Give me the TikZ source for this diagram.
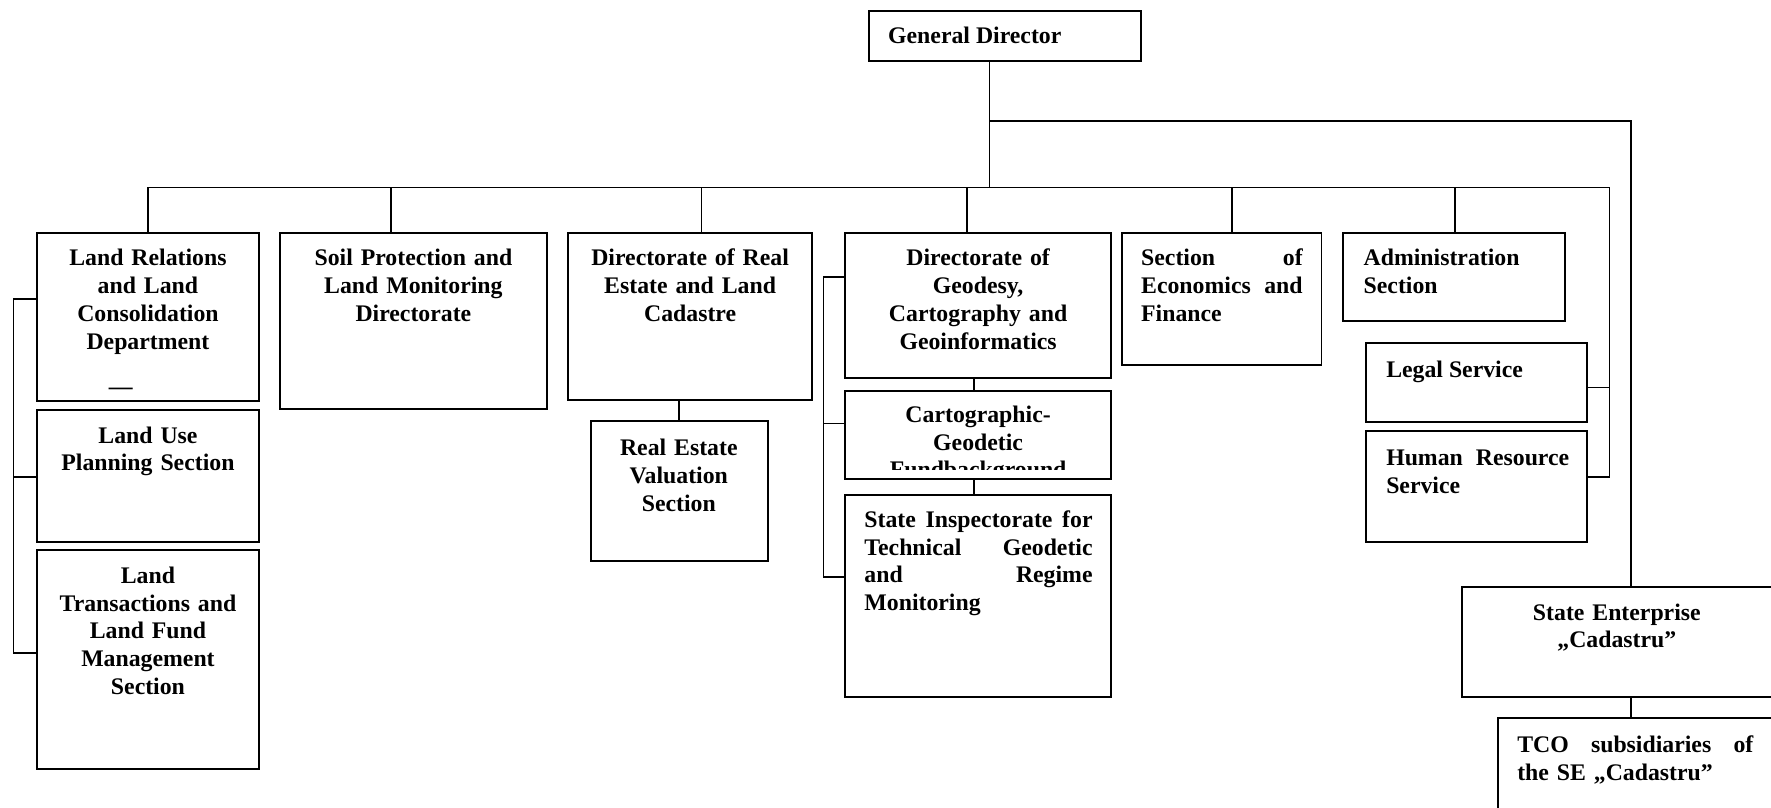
\documentclass[tikz,border=0pt]{standalone}
\usepackage{fontspec}
\setmainfont{Liberation Serif}
\usetikzlibrary{fit}
\newdimen\unitpx
\unitpx=0.57pt
\begin{document}
\begin{tikzpicture}[x=0.57pt, y=-0.57pt,
  orgbox/.style={draw, line width=1pt, inner sep=0pt},
  link/.style={line width=0.9pt, line join=miter},
  orgtext/.style={inner sep=0pt, font=\fontsize{12}{13.97}\selectfont\bfseries},
  txtc/.style={orgtext, anchor=base, align=center, text width=#1\unitpx},
  txtj/.style={orgtext, anchor=base west, align=left, text width=#1\unitpx},
  txtl/.style={orgtext, anchor=base west}]
\useasboundingbox (0,0) rectangle (1568,715);

% ---- boxes ----
\node[orgbox, fit={(769,10) (1010,54)}] (gd) {};
\node[orgbox, fit={(33,206) (229,355)}] (lr) {};
\node[orgbox, fit={(33,363) (229,480)}] (lu) {};
\node[orgbox, fit={(33,487) (229,681)}] (lt) {};
\node[orgbox, fit={(248,206) (484,362)}] (soil) {};
\node[orgbox, fit={(503,206) (719,354)}] (re) {};
\node[orgbox, fit={(523,373) (680,497)}] (rev) {};
\node[orgbox, fit={(748,206) (984,335)}] (geo) {};
\node[orgbox, fit={(748,346) (984,424)}] (carto) {};
\node[orgbox, fit={(748,438) (984,617)}] (si) {};
\node[orgbox, fit={(993,206) (1170,323)}] (econ) {};
\node[orgbox, fit={(1189,206) (1386,284)}] (admin) {};
\node[orgbox, fit={(1209,304) (1405,374)}] (legal) {};
\node[orgbox, fit={(1209,382) (1405,480)}] (hr) {};
\node[orgbox, fit={(1294,520) (1570,617)}] (se) {};
\node[orgbox, fit={(1326,636) (1570,740)}] (tco) {};

% ---- texts ----
\node[txtl] (gd-t) at (786,38.5) {General Director};
\node[txtc=190] (lr-t) at (131,235.5) {Land Relations\\and Land\\Consolidation\\Department};
\node[orgtext, anchor=base] (lr-dash) at (107,349) {—};
\node[txtc=190] (lu-t) at (131,392.5) {Land Use\\Planning Section};
\node[txtc=190] (lt-t) at (131,516.5) {Land\\Transactions and\\Land Fund\\Management\\Section};
\node[txtc=230] (soil-t) at (366,235.5) {Soil Protection and\\Land Monitoring\\Directorate};
\node[txtc=210] (re-t) at (611,235.5) {Directorate of Real\\Estate and Land\\Cadastre};
\node[txtc=150] (rev-t) at (601,403.5) {Real Estate\\Valuation\\Section};
\node[txtc=230] (geo-t) at (866,235.5) {Directorate of\\Geodesy,\\Cartography and\\Geoinformatics};
\begin{scope}
  \clip (748,346) rectangle (984,415.5);
  \node[txtc=230] (carto-t) at (866,374) {Cartographic-\\Geodetic\\Fundbackground};
\end{scope}
\node[txtj=202] (si-t) at (765,467) {State\hfill Inspectorate\hfill for\\Technical\hfill Geodetic\\and\hfill Regime\\Monitoring};
\node[txtj=143] (econ-t) at (1010,235.5) {Section\hfill of\\Economics\hfill and\\Finance};
\node[txtj=170] (admin-t) at (1207,235.5) {Administration\\Section};
\node[txtl] (legal-t) at (1227,334) {Legal Service};
\node[txtj=162] (hr-t) at (1227,412) {Human\hfill Resource\\Service};
\node[txtc=260] (se-t) at (1431.5,549) {State Enterprise\\„Cadastru”};
\node[txtj=209] (tco-t) at (1343,666.5) {TCO\hfill subsidiaries\hfill of\\the SE „Cadastru”};

% ---- connectors ----
\coordinate (hub) at (876,166);
\coordinate (fork) at (876,107);
\coordinate (seturn) at (1444,107);
\coordinate (busL) at (131,166);
\coordinate (busR) at (1425,166);
\coordinate (legj) at (1425,343);
\coordinate (hrj) at (1425,422);

\draw[link] (gd.south -| hub) -- (hub);
\draw[link] (fork) -- (seturn) -- (seturn |- se.north);
\draw[link] (busL) -- (busR) -- (hrj) -- (hr.east |- hrj);
\draw[link] (legj) -- (legal.east |- legj);
\foreach \x/\n in {131/lr, 346/soil, 621/re, 856/geo, 1091/econ, 1288/admin}
  \draw[link] (\x,166) -- (\x,166 |- \n.north);

% left-hand bracket of the land relations department
\draw[link] (lr.west |- 0,265) -- (12,265) -- (12,578) -- (lt.west |- 0,578);
\draw[link] (12,422) -- (lu.west |- 0,422);

% geodesy directorate and its units
\draw[link] (geo.west |- 0,245) -- (729,245) -- (729,511) -- (si.west |- 0,511);
\draw[link] (729,375) -- (carto.west |- 0,375);
\draw[link] (geo.south -| 862,0) -- (carto.north -| 862,0);
\draw[link] (carto.south -| 862,0) -- (si.north -| 862,0);

\draw[link] (re.south -| rev.north) -- (rev.north);
\draw[link] (se.south -| seturn) -- (tco.north -| seturn);
\end{tikzpicture}
\end{document}
